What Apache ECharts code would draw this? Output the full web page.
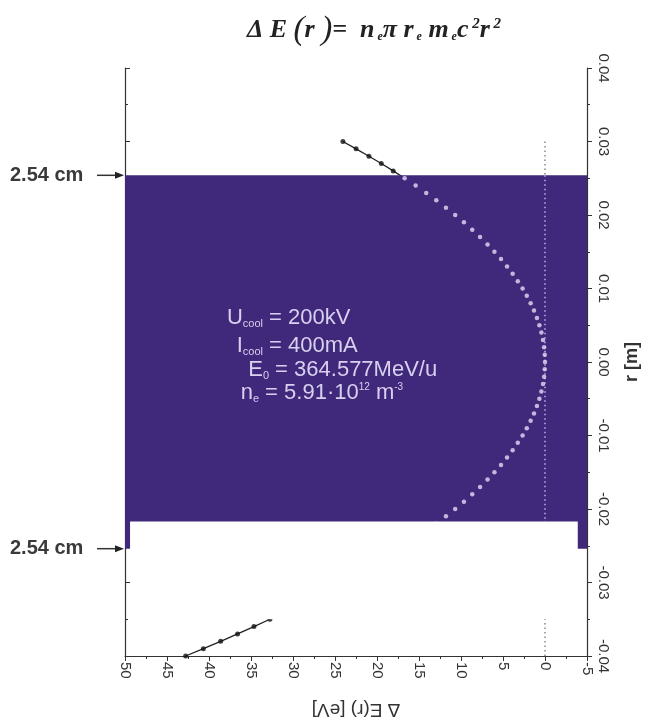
<!DOCTYPE html>
<html>
<head>
<meta charset="utf-8">
<script src="https://cdn.jsdelivr.net/npm/echarts@6/dist/echarts.min.js"></script>
<style>html,body{margin:0;padding:0;background:#fff;}#c{width:660px;height:722px;}</style>
</head>
<body>
<div id="c"></div>
<script>
// radius r [m]
const rValues = [-0.040,-0.039,-0.038,-0.037,-0.036,-0.035,-0.034,-0.033,-0.032,-0.031,
  -0.030,-0.029,-0.028,-0.027,-0.026,-0.025,-0.024,-0.023,-0.022,-0.021,
  -0.020,-0.019,-0.018,-0.017,-0.016,-0.015,-0.014,-0.013,-0.012,-0.011,
  -0.010,-0.009,-0.008,-0.007,-0.006,-0.005,-0.004,-0.003,-0.002,-0.001,
  0.000,0.001,0.002,0.003,0.004,0.005,0.006,0.007,0.008,0.009,
  0.010,0.011,0.012,0.013,0.014,0.015,0.016,0.017,0.018,0.019,
  0.020,0.021,0.022,0.023,0.024,0.025,0.026,0.027,0.028,0.029,0.030];
// ΔE(r) [eV]
const dEValues = [42.78,40.67,38.61,36.60,34.65,32.75,30.91,29.12,27.38,25.69,
  24.06,22.49,20.96,19.49,18.07,16.71,15.40,14.14,12.94,11.79,
  10.69,9.65,8.66,7.73,6.84,6.02,5.24,4.52,3.85,3.24,
  2.67,2.17,1.71,1.31,0.96,0.67,0.43,0.24,0.11,0.03,
  0,0.03,0.11,0.24,0.43,0.67,0.96,1.31,1.71,2.17,
  2.67,3.24,3.85,4.52,5.24,6.02,6.84,7.73,8.66,9.65,
  10.69,11.79,12.94,14.14,15.40,16.71,18.07,19.49,20.96,22.49,24.06];
const xTicks = [50,45,40,35,30,25,20,15,10,5,0,-5];
const yTicks = [-0.04,-0.03,-0.02,-0.01,0.00,0.01,0.02,0.03,0.04];
const bandHalf = 0.0254;           // 2.54 cm
const zeroLineR = [-0.04, 0.03];
const maskX = [49.4, -3.9];
const maskY = [-0.0217, -0.035];

const purple = '#40287a';
const lav = '#e2dcf7';
const txtLav = '#d8d0f0';

const all = rValues.map((r, i) => [dEValues[i], r]);
const inner = all.filter(p => Math.abs(p[1]) < bandHalf);
const outer = all.filter(p => Math.abs(p[1]) >= bandHalf);

const chart = echarts.init(document.getElementById('c'));
const grid = {left: 125, right: 73, top: 68, bottom: 66, outerBoundsMode: 'none', containLabel: false};
const tickFont = {color: '#333', fontSize: 15, fontFamily: 'Liberation Sans'};

chart.setOption({
  animation: false,
  backgroundColor: '#fff',
  grid: grid,
  xAxis: {
    type: 'value', inverse: true, min: -5, max: 50, interval: 5,
    position: 'bottom',
    axisLine: {show: true, onZero: false, lineStyle: {color: '#333', width: 1.2}},
    axisTick: {show: true, length: 5, lineStyle: {color: '#333'}},
    minorTick: {show: true, splitNumber: 2, length: 3, lineStyle: {color: '#333'}},
    splitLine: {show: false},
    axisLabel: Object.assign({rotate: -90, margin: 6,
      formatter: v => xTicks.includes(v) ? String(v) : ''}, tickFont),
    name: 'Δ E(r) [eV]', nameLocation: 'middle', nameGap: 44, nameRotate: 180,
    nameTextStyle: {color: '#333', fontSize: 19, fontFamily: 'Liberation Sans'}
  },
  yAxis: [{
    type: 'value', min: -0.04, max: 0.04, interval: 0.01, position: 'right',
    axisLine: {show: true, onZero: false, lineStyle: {color: '#333', width: 1.2}},
    axisTick: {show: true, length: 5, lineStyle: {color: '#333'}},
    minorTick: {show: true, splitNumber: 2, length: 3, lineStyle: {color: '#333'}},
    splitLine: {show: false},
    axisLabel: Object.assign({rotate: -90, margin: 9,
      formatter: v => yTicks.some(t => Math.abs(t - v) < 1e-9) ? v.toFixed(2) : ''}, tickFont),
    name: 'r [m]', nameLocation: 'middle', nameGap: 36, nameRotate: 90,
    nameTextStyle: {color: '#333', fontSize: 18, fontWeight: 'bold', fontFamily: 'Liberation Sans'}
  }, {
    type: 'value', min: -0.04, max: 0.04, interval: 0.01, position: 'left',
    axisLine: {show: true, onZero: false, lineStyle: {color: '#333', width: 1.2}},
    axisTick: {show: true, inside: true, length: 5, lineStyle: {color: '#333'}},
    minorTick: {show: true, splitNumber: 2, length: 3, lineStyle: {color: '#333'}},
    splitLine: {show: false},
    axisLabel: {show: false}
  }],
  series: [
    {name: 'curveLine', type: 'line', z: 2, data: all, showSymbol: false,
      lineStyle: {color: '#222', width: 1.3}, silent: true},
    {name: 'zeroLine', type: 'line', z: 2, data: zeroLineR.map(r => [0, r]), showSymbol: false,
      lineStyle: {color: '#888', width: 1.5, type: [1.5, 3]}, silent: true},
    {name: 'band', type: 'line', z: 3, data: [], silent: true,
      markArea: {silent: true, z: 3, itemStyle: {color: purple, opacity: 1},
        data: [[{xAxis: 50, yAxis: bandHalf}, {xAxis: -5, yAxis: -bandHalf}]]}},
    {name: 'innerZero', type: 'line', z: 4, data: [[0, bandHalf], [0, -bandHalf]], showSymbol: false,
      lineStyle: {color: '#bdb2e6', width: 1.5, type: [1.5, 3]}, silent: true},
    {name: 'innerDots', type: 'scatter', z: 4, data: inner, symbolSize: 4.5,
      itemStyle: {color: lav}, silent: true},
    {name: 'outerDots', type: 'scatter', z: 4, data: outer, symbolSize: 5,
      itemStyle: {color: '#111'}, silent: true},
    {name: 'mask', type: 'line', z: 6, data: [], silent: true,
      markArea: {silent: true, z: 6, itemStyle: {color: '#ffffff', opacity: 1},
        data: [[{xAxis: maskX[0], yAxis: maskY[0]}, {xAxis: maskX[1], yAxis: maskY[1]}]]}}
  ]
});

const yTop = chart.convertToPixel({yAxisIndex: 0}, bandHalf);
const yBot = chart.convertToPixel({yAxisIndex: 0}, -bandHalf);
const axisX = grid.left;

function marker(y) {
  return {type: 'group', children: [
    {type: 'text', x: 10, y: y, style: {text: '2.54 cm', fill: '#3a3a3a', font: 'bold 20px "Liberation Sans"',
      textVerticalAlign: 'middle', textAlign: 'left'}},
    {type: 'line', shape: {x1: 97, y1: y, x2: axisX - 6, y2: y}, style: {stroke: '#333', lineWidth: 1.5}},
    {type: 'polygon', shape: {points: [[axisX - 1, y], [axisX - 10, y - 3.5], [axisX - 10, y + 3.5]]},
      style: {fill: '#222'}}
  ]};
}

const eqX = 263;
const paramFont = 'Liberation Sans';
const pRich = {
  b: {fontSize: 22, fill: txtLav, fontFamily: paramFont},
  s: {fontSize: 11, fill: txtLav, fontFamily: paramFont, padding: [11, 0, 0, 0]},
  u: {fontSize: 10, fill: txtLav, fontFamily: paramFont, padding: [0, 0, 11, 0]}
};
function pText(x, y, txt, align) {
  return {type: 'text', x: x, y: y, z: 10,
    style: {text: txt, rich: pRich, textAlign: align, textVerticalAlign: 'middle'}};
}

const tFill = '#222';
const titleRich = {
  m: {fontSize: 26, fontStyle: 'italic', fontWeight: 'bold', fontFamily: 'Liberation Serif', fill: tFill},
  p: {fontSize: 33, fontStyle: 'italic', fontFamily: 'Liberation Serif', fill: tFill},
  s: {fontSize: 12, fontStyle: 'italic', fontWeight: 'bold', fontFamily: 'Liberation Serif', fill: tFill, padding: [14, 0, 0, 0]},
  u: {fontSize: 15, fontStyle: 'italic', fontWeight: 'bold', fontFamily: 'Liberation Serif', fill: tFill, padding: [0, 0, 12, 0]}
};

chart.setOption({
  graphic: [
    {type: 'text', x: 374, y: 30, z: 10, style: {
      text: '{m|Δ }{m|E }{p|(}{m|r }{p|)}{m|=  n}{s| e}{m|π r}{s| e}{m| m}{s| e}{m|c}{u| 2}{m|r}{u| 2}',
      rich: titleRich, textAlign: 'center', textVerticalAlign: 'middle'}},
    marker(yTop),
    marker(yBot),
    pText(eqX, 318, '{b|U}{s|cool}', 'right'),
    pText(eqX, 318, '{b| = 200kV}', 'left'),
    pText(eqX, 346, '{b|I}{s|cool}', 'right'),
    pText(eqX, 346, '{b| = 400mA}', 'left'),
    pText(eqX + 6, 370, '{b|E}{s|0}', 'right'),
    pText(eqX + 6, 370, '{b| = 364.577MeV/u}', 'left'),
    pText(eqX - 4, 393, '{b|n}{s|e}', 'right'),
    pText(eqX - 4, 393, '{b| = 5.91·10}{u|12}{b| m}{u|-3}', 'left')
  ]
});
</script>
</body>
</html>
